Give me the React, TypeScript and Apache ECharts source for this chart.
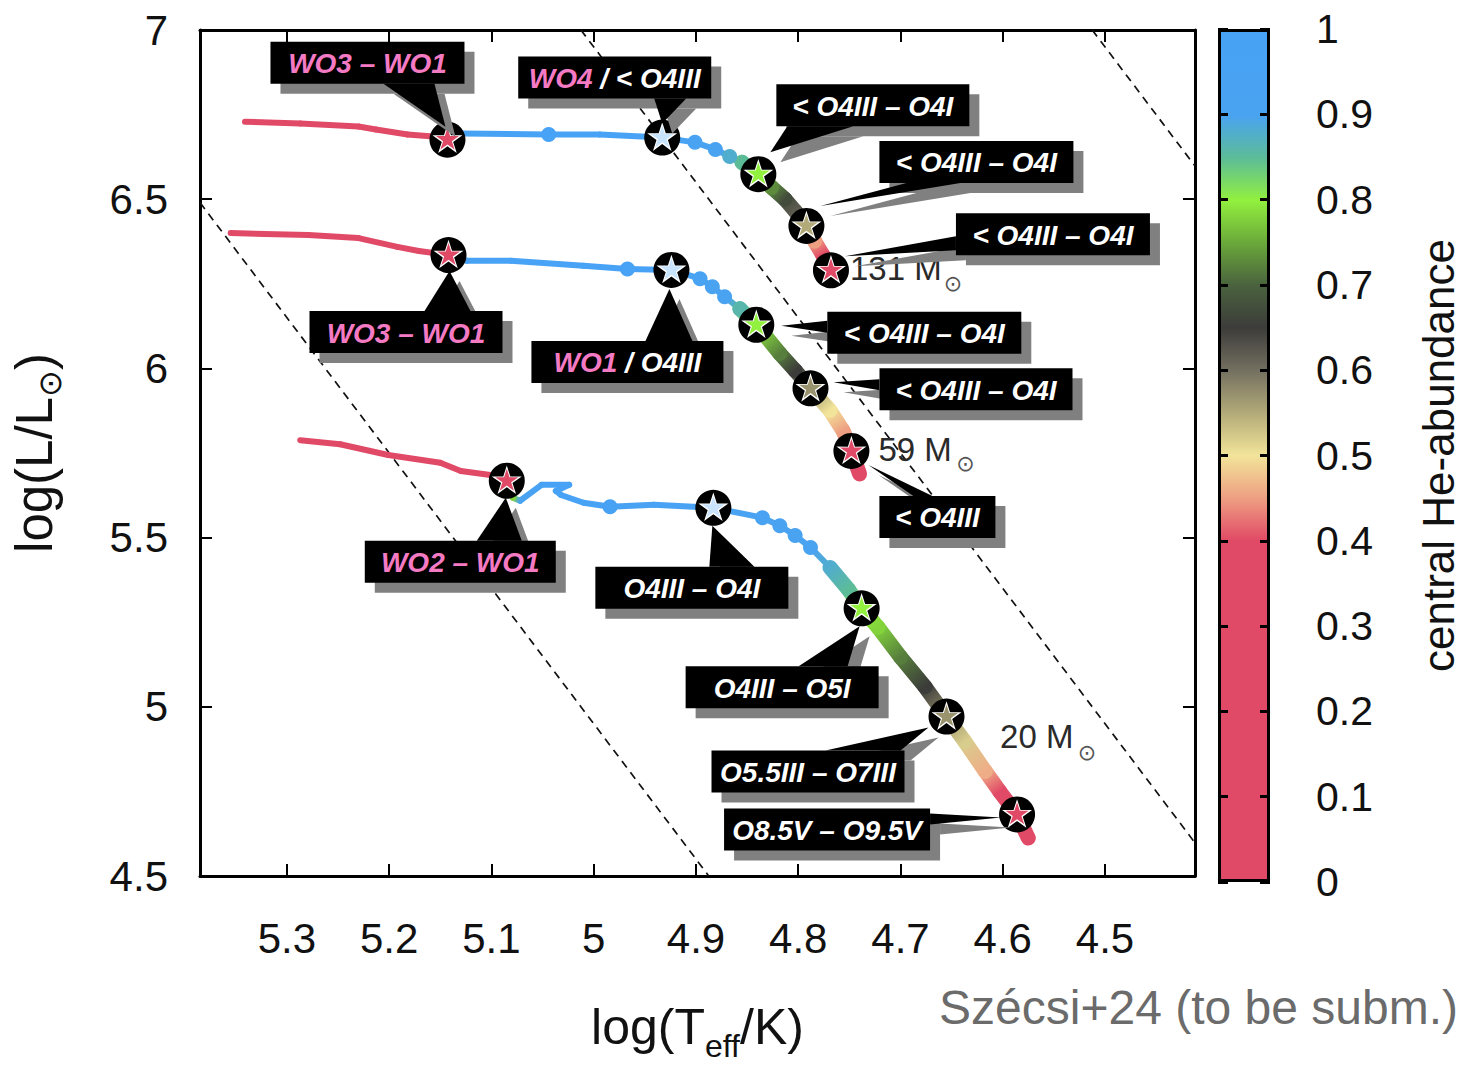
import React, { useEffect, useRef } from 'react';
import * as echarts from 'echarts';

// ---------------- data ----------------
const xTickValues = [5.3, 5.2, 5.1, 5.0, 4.9, 4.8, 4.7, 4.6, 4.5];

// 131 Msun track (from ZAMS onwards)
const m131LogT = [4.768, 4.776, 4.784, 4.792, 4.803, 4.813, 4.826, 4.839, 4.855, 4.867, 4.881, 4.901, 4.933, 4.994, 5.044, 5.130, 5.138, 5.143, 5.157, 5.182, 5.213, 5.230, 5.287, 5.341];
const m131LogL = [6.290, 6.335, 6.376, 6.421, 6.465, 6.500, 6.535, 6.574, 6.609, 6.626, 6.647, 6.668, 6.682, 6.691, 6.691, 6.694, 6.682, 6.676, 6.685, 6.691, 6.706, 6.715, 6.724, 6.729];
const m131He = [0.28, 0.38, 0.45, 0.55, 0.62, 0.67, 0.73, 0.80, 0.85, 0.88, 0.91, 0.94, 0.97, 0.99, 1.00, 0.98, 0.60, 0.35, 0.30, 0.25, 0.18, 0.12, 0.07, 0.02];
const m131Stars = [0, 3, 7, 12, 17];
const m131Dots = [8, 9, 10, 11, 14];

// 59 Msun track
const m59LogT = [4.740, 4.748, 4.756, 4.769, 4.788, 4.803, 4.818, 4.841, 4.857, 4.872, 4.884, 4.896, 4.924, 4.967, 5.010, 5.081, 5.124, 5.135, 5.142, 5.171, 5.192, 5.230, 5.279, 5.355];
const m59LogL = [5.688, 5.756, 5.815, 5.876, 5.941, 5.994, 6.044, 6.129, 6.176, 6.212, 6.241, 6.265, 6.291, 6.294, 6.303, 6.318, 6.318, 6.326, 6.335, 6.347, 6.359, 6.385, 6.394, 6.400];
const m59He = [0.28, 0.32, 0.45, 0.50, 0.57, 0.65, 0.72, 0.80, 0.86, 0.90, 0.92, 0.94, 0.97, 0.99, 1.00, 1.00, 0.98, 0.60, 0.35, 0.27, 0.22, 0.15, 0.08, 0.02];
const m59Stars = [1, 4, 7, 12, 18];
const m59Dots = [8, 9, 10, 11, 13];

// 20 Msun track
const m20LogT = [4.575, 4.586, 4.603, 4.617, 4.637, 4.655, 4.676, 4.700, 4.722, 4.738, 4.751, 4.769, 4.788, 4.803, 4.818, 4.835, 4.883, 4.941, 4.984, 5.010, 5.032, 5.037, 5.024, 5.051, 5.072, 5.079, 5.085, 5.101, 5.130, 5.150, 5.201, 5.248, 5.287];
const m20LogL = [4.612, 4.682, 4.750, 4.809, 4.897, 4.971, 5.059, 5.147, 5.235, 5.291, 5.347, 5.412, 5.471, 5.506, 5.535, 5.559, 5.588, 5.597, 5.591, 5.603, 5.626, 5.638, 5.656, 5.656, 5.609, 5.618, 5.668, 5.685, 5.697, 5.721, 5.744, 5.776, 5.788];
const m20He = [0.28, 0.32, 0.40, 0.46, 0.52, 0.57, 0.65, 0.72, 0.78, 0.80, 0.85, 0.88, 0.90, 0.91, 0.92, 0.94, 0.96, 0.97, 0.98, 0.99, 1.00, 1.00, 1.00, 1.00, 0.90, 0.78, 0.35, 0.30, 0.25, 0.20, 0.15, 0.08, 0.02];
const m20Stars = [1, 5, 9, 16, 26];
const m20Dots = [12, 13, 14, 15, 18];

// constant-radius lines (endpoints)
const radiusLineA = [[5.385, 6.49], [4.8875, 4.5]];
const radiusLineB = [[5.0125, 7.0], [4.412, 4.598]];
const radiusLineC = [[4.5125, 7.0], [4.412, 6.598]];

// colour scale of central He abundance
const heStops: [number, string][] = [
  [0.0, '#e14a66'], [0.4, '#e14a66'], [0.45, '#ee9f82'], [0.5, '#f2e49a'],
  [0.55, '#b2aa78'], [0.6, '#747060'], [0.65, '#3c3c3a'], [0.7, '#4a623e'],
  [0.75, '#6aa83a'], [0.8, '#92f03e'], [0.85, '#5cbc98'], [0.9, '#4aa3f0'], [1.0, '#48a2f5'],
];

// ---------------- layout / style config ----------------
const tracks = [
  { logT: m131LogT, logL: m131LogL, he: m131He, stars: m131Stars, dots: m131Dots, thick: 8 },
  { logT: m59LogT, logL: m59LogL, he: m59He, stars: m59Stars, dots: m59Dots, thick: 8 },
  { logT: m20LogT, logL: m20LogL, he: m20He, stars: m20Stars, dots: m20Dots, thick: 11 },
];

const ltxt = '< O4III – O4I';
const callouts = [
  { trk: 0, pt: 17, label: '{p|WO3 – WO1}', box: [-177, -98], w: 194, base: [[113, 42], [164, 42]], tip: [-2, -13] },
  { trk: 0, pt: 12, label: '{p|WO4} / < O4III', box: [-144, -81], w: 193, base: [[136, 42], [168, 42]], tip: [0, -14] },
  { trk: 0, pt: 7, label: ltxt, box: [18, -90], w: 193, base: [[11, 42], [77, 42]], tip: [12, -22] },
  { trk: 0, pt: 3, label: ltxt, box: [73, -85], w: 194, base: [[27, 42], [81, 42]], tip: [14, -20] },
  { trk: 0, pt: 0, label: ltxt, box: [125, -57], w: 194, base: [[0, 23], [0, 37]], tip: [14, -14] },
  { trk: 1, pt: 18, label: '{p|WO3 – WO1}', box: [-139, 56], w: 193, base: [[115, 0], [161, 0]], tip: [1, 16] },
  { trk: 1, pt: 12, label: '{p|WO1} / O4III', box: [-140, 71], w: 192, base: [[114, 0], [161, 0]], tip: [-2, 19] },
  { trk: 1, pt: 7, label: ltxt, box: [71, -13], w: 194, base: [[0, 9], [0, 21]], tip: [25, 1] },
  { trk: 1, pt: 4, label: ltxt, box: [69, -20], w: 193, base: [[0, 11], [0, 22]], tip: [23, -6] },
  { trk: 1, pt: 1, label: '< O4III', box: [28, 45], w: 116, base: [[34, 0], [53, 0]], tip: [17, 14] },
  { trk: 2, pt: 26, label: '{p|WO2 – WO1}', box: [-142, 60], w: 191, base: [[112, 0], [157, 0]], tip: [-1, 17] },
  { trk: 2, pt: 16, label: 'O4III – O4I', box: [-118, 59], w: 193, base: [[114, 0], [159, 0]], tip: [-1, 18] },
  { trk: 2, pt: 9, label: 'O4III – O5I', box: [-176, 58], w: 193, base: [[113, 0], [162, 0]], tip: [-2, 18] },
  { trk: 2, pt: 5, label: 'O5.5III – O7III', box: [-235, 34], w: 193, base: [[114, 0], [189, 0]], tip: [-18, 11] },
  { trk: 2, pt: 1, label: 'O8.5V – O9.5V', box: [-293, -6], w: 206, base: [[206, 5], [206, 16]], tip: [-16, 3] },
];

const massLabels = [
  { trk: 0, pt: 0, text: '131 M', off: [19, -2], sun: [122, 13] },
  { trk: 1, pt: 1, text: '59 M', off: [27, -1], sun: [114, 13] },
  { trk: 2, pt: 1, text: '20 M', off: [-17, -78], sun: [70, -62] },
];

const FONT = 'Liberation Sans';
const STAR = 'path://M50,0L61.17,34.63L97.55,34.55L68.07,55.87L79.39,90.45L50,69L20.61,90.45L31.93,55.87L2.45,34.55L38.83,34.63Z';

function hexRgb(h: string) {
  const n = parseInt(h.slice(1), 16);
  return [(n >> 16) & 255, (n >> 8) & 255, n & 255];
}
function heRgb(h: number) {
  const v = Math.max(0, Math.min(1, h));
  for (let i = 0; i < heStops.length - 1; i++) {
    const [h0, c0] = heStops[i];
    const [h1, c1] = heStops[i + 1];
    if (v >= h0 && v <= h1) {
      const t = h1 === h0 ? 0 : (v - h0) / (h1 - h0);
      const a = hexRgb(c0), b = hexRgb(c1);
      return a.map((x, k) => Math.round(x + (b[k] - x) * t));
    }
  }
  return hexRgb(heStops[heStops.length - 1][1]);
}
function heColor(h: number) {
  const r = heRgb(h);
  return `rgb(${r[0]},${r[1]},${r[2]})`;
}
// star fill: the nearly-pure-He (blue) stars appear mostly white in the figure
function starColor(h: number) {
  const r = heRgb(h);
  const k = h >= 0.9 ? 0.7 : 0;
  const m = r.map((x) => Math.round(x + (255 - x) * k));
  return `rgb(${m[0]},${m[1]},${m[2]})`;
}

function buildOption() {
  const series: any[] = [];
  [radiusLineA, radiusLineB, radiusLineC].forEach((d) => {
    series.push({
      type: 'line', xAxisIndex: 0, yAxisIndex: 0, data: d, symbol: 'none', silent: true, clip: true, z: 1,
      lineStyle: { color: '#111', width: 1.7, type: [8, 6] },
    });
  });
  tracks.forEach((t) => {
    const segs: number[][] = [];
    for (let i = 0; i < t.logT.length - 1; i++) {
      segs.push([t.logT[i], t.logL[i], t.logT[i + 1], t.logL[i + 1], t.he[i], t.he[i + 1], i < t.thick ? 1 : 0]);
    }
    series.push({
      type: 'custom', xAxisIndex: 0, yAxisIndex: 0, z: 2, silent: true, clip: true,
      data: segs, encode: { x: [0, 2], y: [1, 3] },
      renderItem: (params: any, api: any) => {
        const a = api.coord([api.value(0), api.value(1)]);
        const b = api.coord([api.value(2), api.value(3)]);
        const c1 = heColor(api.value(4));
        const c2 = heColor(api.value(5));
        const thick = api.value(6) > 0.5;
        const same = Math.abs(a[0] - b[0]) < 0.01 && Math.abs(a[1] - b[1]) < 0.01;
        return {
          type: 'line',
          shape: { x1: a[0], y1: a[1], x2: b[0], y2: b[1] },
          style: {
            stroke: same ? c1 : new echarts.graphic.LinearGradient(a[0], a[1], b[0], b[1], [{ offset: 0, color: c1 }, { offset: 1, color: c2 }], true),
            lineWidth: thick ? 15 : 6, lineCap: 'round', lineJoin: 'round',
          },
        };
      },
    });
    series.push({
      type: 'scatter', xAxisIndex: 0, yAxisIndex: 0, z: 3, silent: true, symbolSize: 15,
      data: t.dots.map((i) => [t.logT[i], t.logL[i], t.he[i]]),
      itemStyle: { color: (p: any) => heColor(p.value[2]), opacity: 1 },
    });
    const sd = t.stars.map((i) => [t.logT[i], t.logL[i], t.he[i]]);
    series.push({ type: 'scatter', xAxisIndex: 0, yAxisIndex: 0, z: 4, silent: true, symbol: 'circle', symbolSize: 36, data: sd, itemStyle: { color: '#000', opacity: 1 } });
    series.push({ type: 'scatter', xAxisIndex: 0, yAxisIndex: 0, z: 5, silent: true, symbol: STAR, symbolKeepAspect: true, symbolSize: 30, symbolOffset: [0, -1], data: sd, itemStyle: { color: '#fff', opacity: 1 } });
    series.push({ type: 'scatter', xAxisIndex: 0, yAxisIndex: 0, z: 6, silent: true, symbol: STAR, symbolKeepAspect: true, symbolSize: 23, symbolOffset: [0, -1], data: sd, itemStyle: { color: (p: any) => starColor(p.value[2]), opacity: 1 } });
  });
  // colour bar
  const grad = new echarts.graphic.LinearGradient(0, 0, 0, 1,
    heStops.slice().reverse().map(([h, c]) => ({ offset: 1 - h, color: c })));
  series.push({
    type: 'bar', xAxisIndex: 2, yAxisIndex: 2, data: [1], barWidth: '100%', silent: true, z: 2,
    itemStyle: { color: grad, borderColor: '#000', borderWidth: 3 },
  });

  const frameLine = { show: true, onZero: false, lineStyle: { color: '#000', width: 3 } };
  const tickStyle = { color: '#000', width: 2 };
  const mainX = { gridIndex: 0, type: 'value', min: 4.412, max: 5.385, inverse: true, splitLine: { show: false } };
  const mainY = { gridIndex: 0, type: 'value', min: 4.5, max: 7, interval: 0.5, splitLine: { show: false } };
  const cbY = { gridIndex: 1, type: 'value', min: 0, max: 1, interval: 0.1, splitLine: { show: false }, z: 5 };

  return {
    animation: false,
    backgroundColor: '#fff',
    textStyle: { fontFamily: FONT },
    grid: [
      { left: 200, top: 30, width: 995, height: 851 },
      { left: 1218, top: 29, width: 52, height: 853 },
    ],
    xAxis: [
      {
        ...mainX, position: 'bottom', axisLine: frameLine,
        axisTick: { show: true, inside: true, length: 12, lineStyle: tickStyle, customValues: xTickValues },
        axisLabel: { show: true, customValues: xTickValues, formatter: (v: number) => String(Math.round(v * 10) / 10), fontSize: 42, color: '#111', margin: 41, fontFamily: FONT },
        name: '{n|log(T}{s|eff}{n|/K)}', nameLocation: 'middle', nameGap: 126,
        nameTextStyle: {
          rich: {
            n: { fontSize: 50, lineHeight: 50, color: '#111', verticalAlign: 'top', fontFamily: FONT },
            s: { fontSize: 32, lineHeight: 32, color: '#111', verticalAlign: 'top', padding: [28, 0, 0, 0], fontFamily: FONT },
          },
        },
      },
      {
        ...mainX, position: 'top', axisLine: frameLine,
        axisTick: { show: true, inside: true, length: 12, lineStyle: tickStyle, customValues: xTickValues },
        axisLabel: { show: false },
      },
      { gridIndex: 1, type: 'category', data: ['c'], show: false },
    ],
    yAxis: [
      {
        ...mainY, position: 'left', axisLine: frameLine,
        axisTick: { show: true, inside: true, length: 12, lineStyle: tickStyle },
        axisLabel: { fontSize: 42, color: '#111', margin: 32, fontFamily: FONT },
        name: '{n|log(L/L}{s|⊙}{n|)}', nameLocation: 'middle', nameGap: 140, nameRotate: 90,
        nameTextStyle: {
          rich: {
            n: { fontSize: 51, lineHeight: 51, color: '#111', verticalAlign: 'top', fontFamily: FONT },
            s: { fontSize: 32, lineHeight: 32, color: '#111', verticalAlign: 'top', padding: [25, 0, 0, 0] },
          },
        },
      },
      {
        ...mainY, position: 'right', axisLine: frameLine,
        axisTick: { show: true, inside: true, length: 12, lineStyle: tickStyle },
        axisLabel: { show: false },
      },
      {
        ...cbY, position: 'right', axisLine: { show: false },
        axisTick: { show: true, inside: true, length: 10, lineStyle: { color: '#000', width: 3 } },
        axisLabel: { fontSize: 41, color: '#111', margin: 46, fontFamily: FONT },
        name: 'central He-abundance', nameLocation: 'middle', nameGap: 146, nameRotate: 90,
        nameTextStyle: { fontSize: 44, color: '#111', fontFamily: FONT },
      },
      {
        ...cbY, position: 'left', axisLine: { show: false },
        axisTick: { show: true, inside: true, length: 10, lineStyle: { color: '#000', width: 3 } },
        axisLabel: { show: false },
      },
    ],
    series,
  };
}

function buildGraphics(chart: any) {
  const els: any[] = [];
  const px = (trk: number, i: number) =>
    chart.convertToPixel({ xAxisIndex: 0, yAxisIndex: 0 }, [tracks[trk].logT[i], tracks[trk].logL[i]]);
  const sh = 10;
  const H = 42;
  const txtStyle = { fontSize: 28, fontWeight: 'bold', fontStyle: 'italic', fontFamily: FONT };
  callouts.forEach((c) => {
    const s = px(c.trk, c.pt);
    const bx = s[0] + c.box[0];
    const by = s[1] + c.box[1];
    const tip = [s[0] + c.tip[0], s[1] + c.tip[1]];
    const b1 = [bx + c.base[0][0], by + c.base[0][1]];
    const b2 = [bx + c.base[1][0], by + c.base[1][1]];
    els.push({ type: 'polygon', z: 100, silent: true, shape: { points: [[b1[0] + sh, b1[1] + sh], [b2[0] + sh, b2[1] + sh], [tip[0] + sh, tip[1] + sh]] }, style: { fill: '#808080' } });
    els.push({ type: 'rect', z: 100, silent: true, shape: { x: bx + sh, y: by + sh, width: c.w, height: H }, style: { fill: '#808080' } });
    els.push({ type: 'polygon', z: 101, silent: true, shape: { points: [b1, b2, tip] }, style: { fill: '#000' } });
    els.push({ type: 'rect', z: 101, silent: true, shape: { x: bx, y: by, width: c.w, height: H }, style: { fill: '#000' } });
    els.push({
      type: 'text', z: 102, silent: true, x: bx + c.w / 2, y: by + H / 2 + 1,
      style: {
        text: c.label, align: 'center', verticalAlign: 'middle', fill: '#fff', ...txtStyle,
        rich: { p: { fill: '#f47ac4', ...txtStyle } },
      },
    });
  });
  massLabels.forEach((m) => {
    const s = px(m.trk, m.pt);
    els.push({ type: 'text', z: 90, silent: true, x: s[0] + m.off[0], y: s[1] + m.off[1], style: { text: m.text, align: 'left', verticalAlign: 'middle', fill: '#2a2a2a', fontSize: 33, fontFamily: FONT } });
    els.push({ type: 'text', z: 90, silent: true, x: s[0] + m.sun[0], y: s[1] + m.sun[1], style: { text: '⊙', align: 'center', verticalAlign: 'middle', fill: '#555', fontSize: 22, fontFamily: 'DejaVu Sans' } });
  });
  els.push({ type: 'text', z: 90, silent: true, x: 1458, y: 1007, style: { text: 'Szécsi+24 (to be subm.)', align: 'right', verticalAlign: 'middle', fill: '#6b6b6b', fontSize: 48, fontFamily: FONT } });
  return els;
}

export default function App() {
  const ref = useRef<HTMLDivElement>(null);
  useEffect(() => {
    const chart = echarts.init(ref.current!, null, { renderer: 'svg' });
    chart.setOption(buildOption() as any);
    chart.setOption({ graphic: { elements: buildGraphics(chart) } } as any);
    return () => chart.dispose();
  }, []);
  return <div ref={ref} style={{ position: 'fixed', left: 0, top: 0, width: 1461, height: 1067 }} />;
}
